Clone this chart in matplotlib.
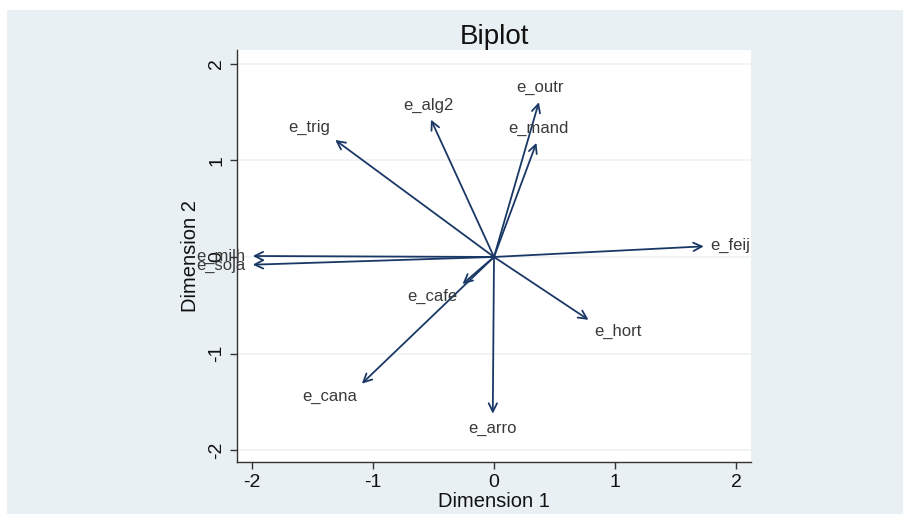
import numpy as np
import matplotlib
matplotlib.use("Agg")
import matplotlib.pyplot as plt
from matplotlib.patches import Rectangle

plt.rcParams['font.family'] = ['Liberation Sans', 'DejaVu Sans']

# Variable loadings (Dimension 1, Dimension 2)
variables = ["e_feij", "e_hort", "e_arro", "e_cana", "e_cafe", "e_soja",
             "e_milh", "e_trig", "e_alg2", "e_outr", "e_mand"]
dim1 = [1.73, 0.78, -0.01, -1.09, -0.26, -1.99, -1.99, -1.31, -0.52, 0.37, 0.35]
dim2 = [0.11, -0.65, -1.62, -1.31, -0.28, -0.08, 0.01, 1.21, 1.42, 1.60, 1.18]
ticks = [-2, -1, 0, 1, 2]

W, H = 904, 518
fig = plt.figure(figsize=(W / 100, H / 100), dpi=100)
fig.patch.set_facecolor("white")
fig.patches.append(Rectangle((7 / W, 4 / H), 1 - 7 / W, (514 - 10) / H,
                             transform=fig.transFigure, facecolor="#e8f0f3",
                             edgecolor="none", zorder=-5))

ax = fig.add_axes([237 / W, (H - 462) / H, (751 - 237) / W, (462 - 50) / H])
ax.set_zorder(1)
ax.set_facecolor("white")
ax.set_xlim(-2.12, 2.12)
ax.set_ylim(-2.12, 2.14)

for y in ticks:
    ax.axhline(y, color="#edf2f4", lw=1.2, zorder=0)

arrow_col = "#1a3866"
for name, x, y in zip(variables, dim1, dim2):
    ax.annotate("", xy=(x, y), xytext=(0, 0),
                arrowprops=dict(arrowstyle="->,head_length=0.6,head_width=0.3",
                                color=arrow_col, lw=1.3, shrinkA=0, shrinkB=0))
    ang = np.arctan2(y, x)
    c, s = np.cos(ang), np.sin(ang)
    ha = "left" if c > 0.4 else ("right" if c < -0.4 else "center")
    va = "bottom" if s > 0.4 else ("top" if s < -0.4 else "center")
    ax.annotate(name, xy=(x, y), xytext=(5 * c, 5 * s), textcoords="offset points",
                ha=ha, va=va, fontsize=12, color="#3a3a3a", annotation_clip=False)

for side in ["top", "right"]:
    ax.spines[side].set_visible(False)
for side in ["left", "bottom"]:
    ax.spines[side].set_color("#333333")
    ax.spines[side].set_linewidth(1.0)

ax.set_xticks(ticks)
ax.set_yticks(ticks)
ax.set_xticklabels([str(t) for t in ticks])
ax.set_yticklabels([str(t) for t in ticks], rotation=90, va="center")
ax.tick_params(direction="out", length=5, width=1, color="#333333",
               labelsize=14, labelcolor="#111111")
ax.set_xlabel("Dimension 1", fontsize=14.5, color="#111111", labelpad=1)
ax.set_ylabel("Dimension 2", fontsize=14.5, color="#111111", labelpad=6)
ax.set_title("Biplot", fontsize=20, color="#111111", pad=4)

fig.savefig("out.png", dpi=100, facecolor=fig.get_facecolor())
